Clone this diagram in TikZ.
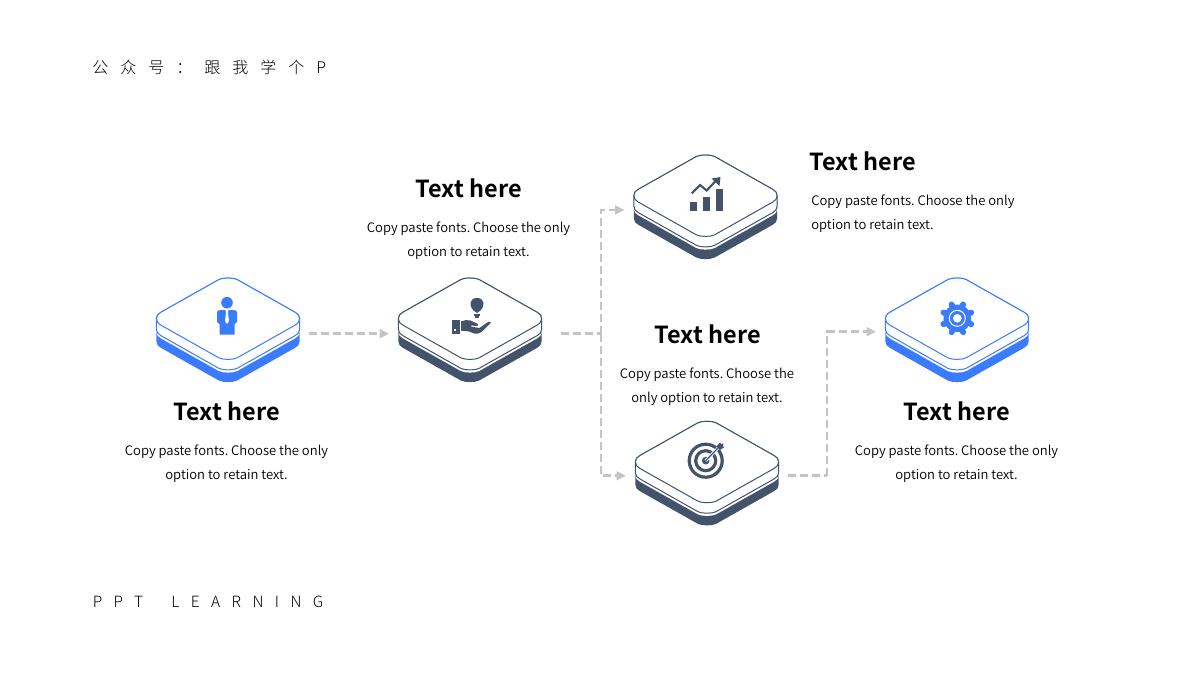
\documentclass[tikz,border=0pt]{standalone}
\usepackage{fontspec}
\usetikzlibrary{arrows.meta}
\setmainfont{Noto Sans CJK SC DemiLight}
\newfontfamily\headfont{Noto Sans CJK SC Bold}
\newfontfamily\cjkfont[LetterSpace=75]{Noto Sans CJK SC Light}
\newfontfamily\latinlight[LetterSpace=74,WordSpace=1.9]{Noto Sans CJK SC Light}
\definecolor{bluec}{HTML}{3B7BFF}
\definecolor{darkc}{HTML}{42536B}
\definecolor{flow}{HTML}{C4C4C4}
\newcommand\hullpath[1]{(-71.6,0) .. controls (-71.6,-3) and (-70,-5) .. (-67,-6.5) -- (-9,-39.2) .. controls (-5,-41.2) and (5,-41.2) .. (9,-39.2) -- (67,-6.5) .. controls (70,-5) and (71.6,-3) .. (71.6,0) -- (71.6,#1) .. controls (71.6,#1+3) and (70,#1+5) .. (67,#1+6.5) -- (9,#1+39.2) .. controls (5,#1+41.2) and (-5,#1+41.2) .. (-9,#1+39.2) -- (-67,#1+6.5) .. controls (-70,#1+5) and (-71.6,#1+3) .. (-71.6,#1) -- cycle}
\newcommand\isoblock[5]{%
  \begin{scope}[shift={(#1,#2)}]
    \fill[#3] \hullpath{22.7};
    \fill[white] \hullpath{13.2};
    \draw[draw=#3,fill=white,line width=.75pt] \hullpath{10.5};
    \draw[draw=#3,fill=white,line width=.75pt] \hullpath{0};
  \end{scope}%
  \node[blockanchor] (#4) at (#1,#2+#5) {};}
\tikzset{
  blockanchor/.style={minimum width=121.5pt,minimum height=78pt,inner sep=0pt,outer sep=0pt},
  heading/.style={font=\fontsize{17.6}{21}\selectfont\headfont,text=black,inner sep=0pt},
  bodytext/.style={font=\fontsize{9.8}{18}\selectfont\frenchspacing,text=black,inner sep=0pt,align=center},
  bodyleft/.style={bodytext,align=left,anchor=west},
  flowline/.style={draw=flow,line width=2.2pt,dash pattern=on 6pt off 3pt},
  flowarrow/.style={flowline,-{Triangle[length=7pt,width=6.5pt,fill=flow]}},
}
\begin{document}
\begin{tikzpicture}[x=.75pt,y=-.75pt]
\useasboundingbox (0,0) rectangle (1200,675);
\fill[white] (0,0) rectangle (1200,675);
% blocks
\isoblock{228}{318.7}{bluec}{b1}{15}
\isoblock{470}{318.7}{darkc}{b2}{15}
\isoblock{705.5}{195.7}{darkc}{b3}{14.3}
\isoblock{707}{462}{darkc}{b4}{13.8}
\isoblock{957}{318.7}{bluec}{b5}{13}
% flow
\coordinate (b2out) at ([xshift=7.5pt]b2.east);
\coordinate (split) at (601,333.7);
\coordinate (b4out) at (b4.east);
\coordinate (turn) at (827,475.8);
\draw[flowarrow] (b1.east) -- (b2.west);
\draw[flowline] (b2out) -- (split);
\draw[flowarrow] (split) |- (b3.west);
\draw[flowarrow] (split) |- (b4.west);
\draw[flowline] (b4out) -- (turn);
\draw[flowarrow] (turn) |- (b5.west);
% text
\node[anchor=west,inner sep=0pt,font=\fontsize{12}{14}\selectfont\cjkfont] (t1) at (92,67) {公众号：跟我学个P};
\node[anchor=west,inner sep=0pt,font=\fontsize{11.6}{14}\selectfont\latinlight] (t2) at (92.5,602) {PPT LEARNING};
\node[heading] (h1) at (226.8,411) {Text here};
\node[heading] (h2) at (468.8,188) {Text here};
\node[heading] (h3) at (862.8,161) {Text here};
\node[heading] (h4) at (707.8,334) {Text here};
\node[heading] (h5) at (956.8,411) {Text here};
\node[bodytext] (p1) at (226.5,464) {Copy paste fonts. Choose the only\\option to retain text.};
\node[bodytext] (p2) at (468.5,241) {Copy paste fonts. Choose the only\\option to retain text.};
\node[bodyleft] (p3) at (811,214) {Copy paste fonts. Choose the only\\option to retain text.};
\node[bodytext] (p4) at (707,387) {Copy paste fonts. Choose the\\only option to retain text.};
\node[bodytext] (p5) at (956.5,464) {Copy paste fonts. Choose the only\\option to retain text.};
% person icon
\fill[bluec] (227,302.7) circle (5.8*.75pt);
\fill[bluec] (217,312.5) .. controls (217,311) and (218,310.5) .. (220,310) -- (234,310) .. controls (236,310.5) and (237,311) .. (237,312.5) -- (237,322) -- (234.5,324) -- (234.5,334.5) -- (219.5,334.5) -- (219.5,324) -- (217,322) -- cycle;
\fill[white] (225.5,310) -- (228.5,310) -- (228,313) -- (229,321) -- (227,324) -- (225,321) -- (226,313) -- cycle;
% bulb and hand icon
\fill[darkc] (477,313) -- (473.6,310.5) .. controls (468,305) and (470,298) .. (477,298) .. controls (484,298) and (486,305) .. (480.4,310.5) -- cycle;
\fill[darkc] (474.3,314) rectangle (480,315.6);
\fill[darkc] (475,316.4) rectangle (479.3,318);
\fill[darkc] (452.3,320.3) rectangle (460,333.7);
\fill[white] (454,329.2) rectangle (456,331.2);
\fill[darkc] (461,321.3) .. controls (464,320) and (467,320) .. (470,320.3) -- (478,324) .. controls (479,325.5) and (477,326.5) .. (475,326) -- (471.5,325.3) -- (471,326.6) -- (479.5,328) -- (488,322) .. controls (490,321.3) and (491.5,322) .. (490.7,323) -- (481.7,332) .. controls (479,333.7) and (477,333.9) .. (475,333.7) -- (468.3,331.3) -- (461,330.7) -- cycle;
% chart icon
\fill[darkc] (690,201.7) rectangle (697.3,211);
\fill[darkc] (703.3,197) rectangle (710.3,211);
\fill[darkc] (716,189) rectangle (723.3,211);
\draw[darkc,line width=1.6pt] (691.7,193.3) -- (700,185) -- (706.7,190.5) -- (716.5,180);
\fill[darkc] (720.5,177) -- (719.5,186) -- (711.5,178.5) -- cycle;
% target icon
\draw[darkc,line width=2.4pt] (705.7,460.7) circle (16.5*.75pt);
\draw[darkc,line width=2.4pt] (705.7,460.7) circle (10*.75pt);
\fill[darkc] (705.7,460.7) circle (3.8*.75pt);
\draw[white,line width=2.2pt] (705.7,460.7) -- (719,447);
\draw[darkc,line width=.9pt] (705.7,460.7) -- (719,447);
\fill[darkc] (716.5,446.5) -- (720,442.5) -- (721,444) -- (723.5,443.5) -- (723,446.5) -- (724.5,447) -- (720,450) -- cycle;
% gear icon
\foreach \a in {0,45,...,315}{
  \draw[bluec,line width=4.4pt,line cap=round] (957.3,318.3) ++(\a+22.5:10) -- ++(\a+22.5:5);
}
\fill[bluec] (957.3,318.3) circle (13.8*.75pt);
\draw[white,line width=.75pt] (957.3,318.3) circle (8*.75pt);
\fill[white] (957.3,318.3) circle (4.3*.75pt);
\end{tikzpicture}
\end{document}
